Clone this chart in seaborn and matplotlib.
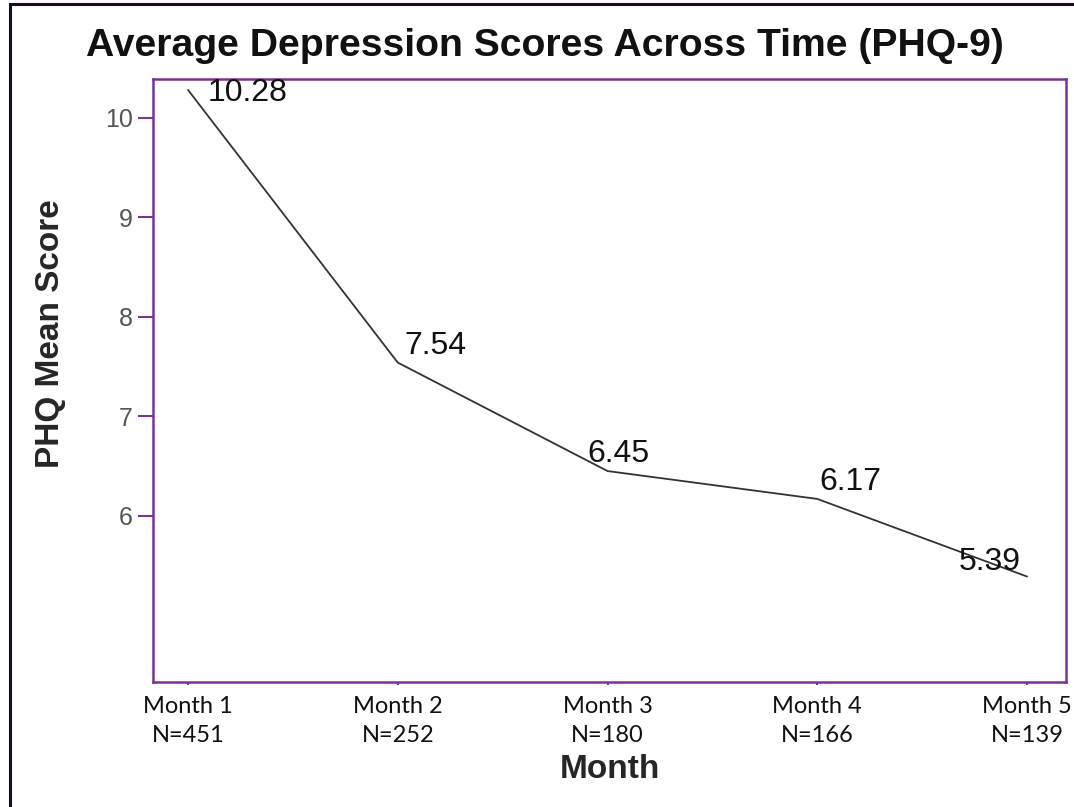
import matplotlib
matplotlib.use("Agg")
import matplotlib.pyplot as plt
import seaborn as sns
import pandas as pd
from matplotlib.patches import Rectangle

months = ["Month 1", "Month 2", "Month 3", "Month 4", "Month 5"]
n_counts = [451, 252, 180, 166, 139]
phq_means = [10.28, 7.54, 6.45, 6.17, 5.39]
y_ticks = [6, 7, 8, 9, 10]

# label offsets in pixels (dx, dy) relative to each point
LABEL_OFFSETS = [(60, -11), (38, 9), (11, 9), (33, 9), (-37, 7)]

PURPLE = "#7B3294"
LINE_COLOR = "#333333"
W, H = 1074, 807

sns.set_theme(style="white")
plt.rcParams["font.family"] = ["Liberation Sans", "DejaVu Sans"]

df = pd.DataFrame({"month": months, "score": phq_means})

fig = plt.figure(figsize=(W / 100, H / 100), dpi=100)
ax = fig.add_axes([153 / W, 1 - 682 / H, (1066 - 153) / W, (682 - 79) / H])

sns.lineplot(data=df, x="month", y="score", color=LINE_COLOR, linewidth=1.3,
             sort=False, ax=ax)

ax.set_xlim(-0.167, 4.186)
ax.set_ylim(4.33, 10.39)
ax.set_yticks(y_ticks)
ax.set_yticklabels([str(t) for t in y_ticks])
ax.set_xticks(range(len(months)))
ax.set_xticklabels([f"{m}\nN={n}" for m, n in zip(months, n_counts)],
                   fontfamily=["Lato", "DejaVu Sans"], fontsize=17,
                   linespacing=1.5)

ax.tick_params(axis="y", direction="out", length=10.5, width=1.5, color=PURPLE,
               labelsize=18, labelcolor="#555555", pad=4, left=True)
ax.tick_params(axis="x", direction="out", length=2, width=1.5, color=PURPLE,
               labelcolor="#111111", pad=8, bottom=True)

for spine in ax.spines.values():
    spine.set_visible(True)
    spine.set_color(PURPLE)
    spine.set_linewidth(1.8)

ax.set_xlabel("Month", fontsize=24, fontweight="bold")
ax.set_ylabel("PHQ Mean Score", fontsize=24, fontweight="bold")
ax.xaxis.set_label_coords(0.5, (682 - 770) / (682 - 79), transform=ax.transAxes)
ax.xaxis.label.set_va("center")
ax.yaxis.set_label_coords((50 - 153) / (1066 - 153), (682 - 334) / (682 - 79),
                          transform=ax.transAxes)
ax.yaxis.label.set_va("center")

for i, (v, off) in enumerate(zip(phq_means, LABEL_OFFSETS)):
    ax.annotate(f"{v:.2f}", xy=(i, v), xytext=off, textcoords="offset pixels",
                ha="center", va="baseline", fontsize=23, color="#111111",
                annotation_clip=False)

fig.text(545 / W, 1 - 46 / H, "Average Depression Scores Across Time (PHQ-9)",
         ha="center", va="center", fontsize=28.2, fontweight="bold", color="#111111")

# outer frame (only left and top edges visible in the crop)
fig.patches.append(Rectangle((10 / W, -0.05), 1.2, 1 - 4 / H + 0.05,
                             transform=fig.transFigure, fill=False,
                             edgecolor="#1a0a22", linewidth=2.2))

fig.savefig("out.png", dpi=100)
